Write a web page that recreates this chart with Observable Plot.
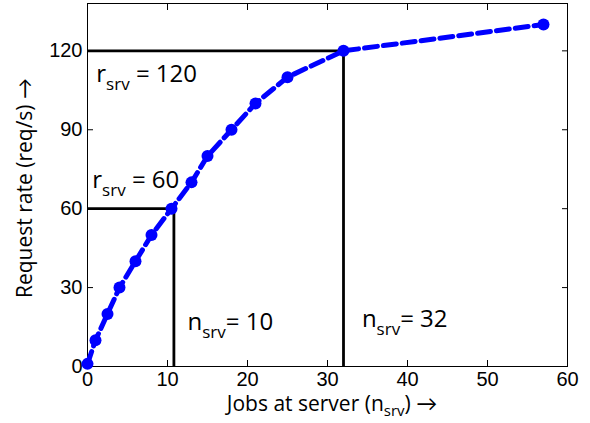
<!DOCTYPE html>
<html>
<head>
<meta charset="utf-8">
<script src="https://cdn.jsdelivr.net/npm/d3@7"></script>
<script src="https://cdn.jsdelivr.net/npm/@observablehq/plot@0.6"></script>
<style>
  body { margin: 0; background: #fff; }
</style>
</head>
<body>
<div id="graph"></div>
<script>
const jobs = [0, 1, 2.5, 4, 6, 8, 10.5, 13, 15, 18, 21, 25, 32, 57];
const rate = [1, 10, 20, 30, 40, 50, 60, 70, 80, 90, 100, 110, 120, 130];
const xTicks = [0, 10, 20, 30, 40, 50, 60];
const yTicks = [0, 30, 60, 90, 120];
const guideJobs = [10.8, 32];
const guideRate = [60, 120];
const noteX = [1.1, 0.6, 12.5, 34.3];
const noteY = [108, 68, 14, 15];
const noteMain = ["r", "r", "n", "n"];
const noteSub = ["srv", "srv", "srv", "srv"];
const noteRest = [" = 120", " = 60", "= 10", "= 32"];

const points = jobs.map((x, i) => ({x, y: rate[i]}));
const guides = guideJobs.map((x, i) => ({x, y: guideRate[i]}));
const notes = noteX.map((x, i) => ({x, y: noteY[i], main: noteMain[i], sub: noteSub[i], rest: noteRest[i]}));

const blue = "#0000ff";
const font = "'Open Sans', Lato, Arial, sans-serif";

const plot = Plot.plot({
  width: 590,
  height: 423,
  marginLeft: 87,
  marginRight: 23,
  marginTop: 3,
  marginBottom: 57,
  style: {fontFamily: "'Liberation Sans', Arial, sans-serif", fontSize: "20px", color: "black", background: "white"},
  x: {domain: [0, 60], label: null},
  y: {domain: [0, 138], label: null},
  marks: [
    Plot.frame({stroke: "black", strokeWidth: 1}),
    Plot.axisX({ticks: xTicks, tickSize: 0, tickPadding: 5}),
    Plot.axisX({ticks: xTicks, tickSize: -6, tickFormat: () => ""}),
    Plot.axisX({ticks: xTicks, anchor: "top", tickSize: -6, tickFormat: () => ""}),
    Plot.axisY({ticks: yTicks, tickSize: 0, tickPadding: 5}),
    Plot.axisY({ticks: yTicks, tickSize: -6, tickFormat: () => ""}),
    Plot.axisY({ticks: yTicks, anchor: "right", tickSize: -6, tickFormat: () => ""}),
    Plot.ruleX(guides, {x: "x", y1: 0, y2: "y", stroke: "black", strokeWidth: 2.8}),
    Plot.ruleY(guides, {y: "y", x1: 0, x2: "x", stroke: "black", strokeWidth: 2.8}),
    Plot.line(points, {x: "x", y: "y", stroke: blue, strokeWidth: 5, strokeDasharray: "13,6", curve: "linear"}),
    Plot.dot(points, {x: "x", y: "y", r: 6, fill: blue}),
    Plot.text(notes, {x: "x", y: "y", text: d => d.main + "|" + d.sub + "|" + d.rest,
      textAnchor: "start", lineAnchor: "bottom", fontSize: 24, fontFamily: font, fill: "black",
      className: "subnote"})
  ]
});

const svg = d3.select(plot);

// rebuild annotation texts with subscripts
svg.selectAll(".subnote text").each(function() {
  const t = d3.select(this);
  const [main, sub, rest] = t.text().split("|");
  t.text(null);
  t.append("tspan").text(main);
  t.append("tspan").attr("font-size", 17).attr("dy", 8).text(sub);
  t.append("tspan").attr("dy", -8).text(rest);
});

// axis titles
svg.append("text")
  .attr("transform", "translate(32,188) rotate(-90)")
  .attr("text-anchor", "middle")
  .attr("font-family", font)
  .attr("font-size", 21)
  .attr("fill", "black")
  .text("Request rate (req/s) \u2192");

const xl = svg.append("text")
  .attr("x", 332)
  .attr("y", 411)
  .attr("text-anchor", "middle")
  .attr("font-family", font)
  .attr("font-size", 21)
  .attr("fill", "black");
xl.append("tspan").text("Jobs at server (n");
xl.append("tspan").attr("font-size", 15).attr("dy", 5).text("srv");
xl.append("tspan").attr("dy", -5).text(") \u2192");

d3.select("#graph").append(() => plot);
</script>
</body>
</html>
